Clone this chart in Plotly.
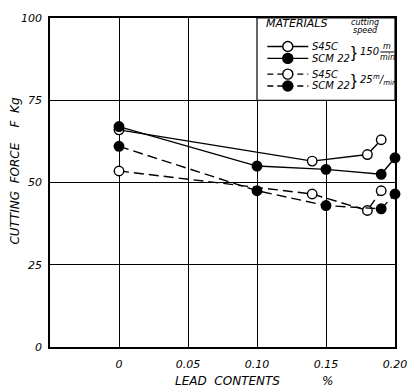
import plotly.graph_objects as go

# ---- data ----
lead_s45c = [0, 0.14, 0.18, 0.19]
lead_scm22 = [0, 0.10, 0.15, 0.19, 0.20]
force_s45c_150 = [66, 56.5, 58.5, 63]
force_scm22_150 = [67, 55, 54, 52.5, 57.5]
force_s45c_25 = [53.5, 46.5, 41.5, 47.5]
force_scm22_25 = [61, 47.5, 43, 42, 46.5]

x_ticks = [0, 0.05, 0.10, 0.15, 0.20]
x_tick_labels = ["0", "0.05", "0.10", "0.15", "0.20"]
y_ticks = [0, 25, 50, 75, 100]
y_tick_labels = ["0", "25", "50", "75", "100"]

material_names = ["S45C", "SCM 22", "S45C", "SCM 22"]
speed_values = ["150", "25"]

FONT = "DejaVu Sans"
BLACK = "black"

series = [
    (material_names[0], lead_s45c, force_s45c_150, False, "solid"),
    (material_names[1], lead_scm22, force_scm22_150, True, "solid"),
    (material_names[2], lead_s45c, force_s45c_25, False, "10px,5px"),
    (material_names[3], lead_scm22, force_scm22_25, True, "10px,5px"),
]

fig = go.Figure()
for name, xs, ys, filled, dash in series:
    fig.add_trace(go.Scatter(
        x=xs, y=ys, name=name, mode="lines+markers",
        line=dict(color=BLACK, width=1.4, dash=dash),
        marker=dict(symbol="circle", size=9.5,
                    color=BLACK if filled else "white",
                    line=dict(color=BLACK, width=1.4)),
        cliponaxis=False, showlegend=False,
    ))

# plot-area pixel geometry
L, R, T, B = 50, 404, 13, 347
W, H = R - L, B - T


def px(x):
    return (x - L) / W


def py(y):
    return (B - y) / H


def ital(size):
    return dict(family=FONT, size=size, color=BLACK, style="italic")


shapes = []
annotations = []


def note(text, x, y, size=11, xanchor="left", **kw):
    annotations.append(dict(text=text, x=px(x), y=py(y), xref="paper", yref="paper",
                            xanchor=xanchor, yanchor="middle", showarrow=False,
                            font=kw.pop("font", ital(size)), **kw))


# legend box covering the upper-right cell
shapes.append(dict(type="rect", xref="x", yref="y", x0=0.10, x1=0.20, y0=75, y1=100,
                   fillcolor="white", line=dict(color=BLACK, width=1.2), layer="above"))

note("MATERIALS", 270, 19, 11)
note("cutting", 373, 18, 8, xanchor="center")
note("speed", 374, 26, 8, xanchor="center")

row_y = [42, 54, 70, 82]
for i, (name, xs, ys, filled, dash) in enumerate(series):
    yy = py(row_y[i])
    shapes.append(dict(type="line", xref="paper", yref="paper", x0=px(273), x1=px(315),
                       y0=yy, y1=yy, line=dict(color=BLACK, width=1.4,
                                               dash="solid" if dash == "solid" else "6px,4px"),
                       layer="above"))
    shapes.append(dict(type="circle", xref="paper", yref="paper", xsizemode="pixel",
                       ysizemode="pixel", xanchor=px(294), yanchor=yy,
                       x0=-5, x1=5, y0=-5, y1=5,
                       fillcolor=BLACK if filled else "white",
                       line=dict(color=BLACK, width=1.4), layer="above"))
    note(name, 317, row_y[i], 10)

# braces and speeds
for ymid in [48, 76]:
    note("}", 362, ymid, xanchor="center",
         font=dict(family="Liberation Sans", size=17, color=BLACK))
# 150 m/min (stacked fraction)
note(speed_values[0], 366, 47, 10)
note("m", 396, 42, 8, xanchor="center")
note("min", 396, 53, 8, xanchor="center")
shapes.append(dict(type="line", xref="paper", yref="paper", x0=px(389), x1=px(403),
                   y0=py(47.5), y1=py(47.5), line=dict(color=BLACK, width=1), layer="above"))
# 25 m/min (slanted fraction)
note(speed_values[1], 366, 75, 10)
note("<sup>m</sup>/<sub>min</sub>", 379, 76, 10)

# axis titles
note("LEAD  CONTENTS", 232, 382, 12, xanchor="center")
note("%", 335, 382, 12, xanchor="center")
note("CUTTING  FORCE    F  Kg", 14, 168, 12, xanchor="center", textangle=-90)

fig.update_layout(
    width=419, height=392,
    margin=dict(l=L, r=419 - R, t=T, b=392 - B),
    paper_bgcolor="white", plot_bgcolor="white",
    font=dict(family=FONT, size=11, color=BLACK),
    shapes=shapes, annotations=annotations,
    xaxis=dict(range=[-0.05, 0.20], tickmode="array", tickvals=x_ticks, ticktext=x_tick_labels,
               showgrid=True, gridcolor=BLACK, gridwidth=1, zeroline=False,
               showline=True, linecolor=BLACK, linewidth=1.5, mirror=True,
               ticks="", ticklabelstandoff=6, tickfont=ital(11)),
    yaxis=dict(range=[0, 100], tickmode="array", tickvals=y_ticks, ticktext=y_tick_labels,
               showgrid=True, gridcolor=BLACK, gridwidth=1, zeroline=False,
               showline=True, linecolor=BLACK, linewidth=1.5, mirror=True,
               ticks="", ticklabelstandoff=4, tickfont=ital(11)),
)

fig.write_html(
    "out.html", config={"displayModeBar": False},
    post_script=("document.body.style.margin='0';document.body.style.padding='0';"
                 "document.body.style.overflow='hidden';"
                 "var gd=document.getElementById('{plot_id}');"
                 "gd.style.position='fixed';gd.style.top='0px';gd.style.left='0px';"))
